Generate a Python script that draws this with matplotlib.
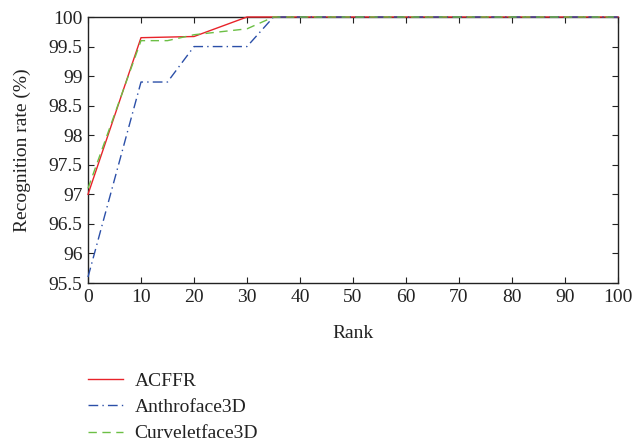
import matplotlib
matplotlib.use("Agg")
import matplotlib.pyplot as plt

plt.rcParams['font.family'] = ['Liberation Serif', 'DejaVu Serif']

# Data
rank_acffr = [0, 10, 20, 30, 35, 100]
acffr = [97.0, 99.65, 99.67, 100.0, 100.0, 100.0]

rank_anthro = [0, 10, 15, 20, 30, 35, 100]
anthro = [95.6, 98.9, 98.9, 99.5, 99.5, 100.0, 100.0]

rank_curvelet = [0, 10, 15, 20, 30, 35, 100]
curvelet = [97.1, 99.6, 99.6, 99.7, 99.8, 100.0, 100.0]

fs = 14
txt = '#222222'

fig = plt.figure(figsize=(6.34, 4.43), dpi=100)
ax = fig.add_axes([88 / 634, 1 - 283 / 443, 530 / 634, 266 / 443])

ax.plot(rank_acffr, acffr, color='#e8232a', lw=1.0, label='ACFFR', clip_on=False, zorder=3)
ax.plot(rank_anthro, anthro, color='#2b4fa8', lw=1.0, linestyle=(0, (7, 3, 1, 3)),
        label='Anthroface3D', clip_on=False, zorder=3)
ax.plot(rank_curvelet, curvelet, color='#6cbf45', lw=1.0, linestyle=(0, (6, 4)),
        label='Curveletface3D', clip_on=False, zorder=3)

ax.set_xlim(0, 100)
ax.set_ylim(95.5, 100)
ax.set_xticks(range(0, 101, 10))
ax.set_yticks([95.5, 96, 96.5, 97, 97.5, 98, 98.5, 99, 99.5, 100])
ax.set_yticklabels(['95.5', '96', '96.5', '97', '97.5', '98', '98.5', '99', '99.5', '100'])
ax.tick_params(direction='in', top=True, right=True, labelsize=fs, length=4,
               color=txt, labelcolor=txt, pad=4)
for s in ax.spines.values():
    s.set_linewidth(1.0)
    s.set_color(txt)

ax.set_xlabel('Rank', fontsize=fs, color=txt, labelpad=14)
ax.set_ylabel('Recognition rate (%)', fontsize=fs, color=txt, labelpad=13)

fig.legend(loc='upper left', bbox_to_anchor=(88 / 634, 1 - 372 / 443), frameon=False,
           fontsize=fs, handlelength=1.8, labelspacing=0.45, borderpad=0,
           handletextpad=0.6, borderaxespad=0, labelcolor=txt)

fig.savefig('out.png', dpi=100)
